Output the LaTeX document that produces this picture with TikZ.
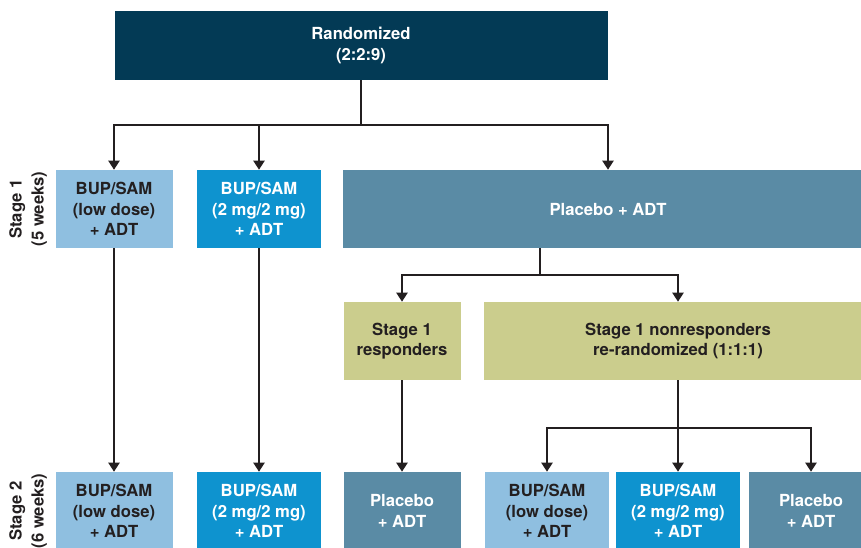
\documentclass[tikz,border=0pt]{standalone}
\usepackage{fontspec}
\setmainfont{TeX Gyre Heros}
\usetikzlibrary{arrows.meta}
\definecolor{navy}{RGB}{3,58,85}
\definecolor{lightblue}{RGB}{143,191,224}
\definecolor{midblue}{RGB}{14,147,207}
\definecolor{steel}{RGB}{90,139,165}
\definecolor{olive}{RGB}{203,205,141}
\definecolor{ink}{RGB}{35,31,32}
\begin{document}
\begin{tikzpicture}[x=0.75pt,y=0.75pt,yscale=-1,xscale=1,
  box/.style={inner sep=0pt, minimum height=58.5pt, align=center, font=\fontsize{12.5}{15.5}\selectfont\bfseries},
  narrow/.style={box, minimum width=87.75pt},
  wide/.style={box, minimum width=93pt},
  lowdose/.style={narrow, fill=lightblue, text=ink},
  fulldose/.style={wide, fill=midblue, text=white},
  placebo/.style={fill=steel, text=white},
  stagelbl/.style={rotate=90, align=center, text=ink, inner sep=0pt, font=\fontsize{12.5}{16.5}\selectfont\bfseries},
  link/.style={draw=ink, line width=1.5pt},
  arr/.style={link, -{Triangle[width=8.25pt,length=6.75pt]}}]
%set diagram left start at 0, and has height of 547
\useasboundingbox (0,0) rectangle (861,547);

% Top box
\node [box, fill=navy, text=white, minimum width=369.75pt, minimum height=51.75pt] (rand) at (361,45.5) {Randomized\\(2:2:9)};

% Stage 1
\node [lowdose] (lowA) at (114,209) {BUP/SAM\\(low dose)\\+ ADT};
\node [fulldose] (fullA) at (259,209) {BUP/SAM\\(2 mg/2 mg)\\+ ADT};
\node [box, placebo, minimum width=397.5pt] (plaA) at (608,209) {Placebo + ADT};

% Responders split
\node [narrow, fill=olive, text=ink] (resp) at (402,341) {Stage 1\\responders};
\node [box, fill=olive, text=ink, minimum width=291.75pt] (nonresp) at (678,341) {Stage 1 nonresponders\\re-randomized (1:1:1)};

% Stage 2
\node [lowdose] (lowB) at (114,511) {BUP/SAM\\(low dose)\\+ ADT};
\node [fulldose] (fullB) at (259,511) {BUP/SAM\\(2 mg/2 mg)\\+ ADT};
\node [narrow, placebo] (plaB) at (402,511) {Placebo\\+ ADT};
\node [wide, fill=lightblue, text=ink] (lowC) at (547,511) {BUP/SAM\\(low dose)\\+ ADT};
\node [wide, fill=midblue, text=white] (fullC) at (678,511) {BUP/SAM\\(2 mg/2 mg)\\+ ADT};
\node [wide, placebo] (plaC) at (811,511) {Placebo\\+ ADT};

% Stage labels
\node [stagelbl] (stgA) at (28,209) {Stage 1\\(5 weeks)};
\node [stagelbl] (stgB) at (28,511) {Stage 2\\(6 weeks)};

% Connectors
\coordinate (splitA) at (361,125);
\coordinate (splitB) at (540,275);
\coordinate (splitC) at (678,428);
\draw [link] (rand.south) -- (splitA);
\draw [arr] (splitA) -| (lowA.north);
\draw [arr] (splitA) -| (fullA.north);
\draw [arr] (splitA) -| (plaA.north);
\draw [arr] (lowA) -- (lowB);
\draw [arr] (fullA) -- (fullB);
\draw [link] (splitB |- plaA.south) -- (splitB);
\draw [arr] (splitB) -| (resp.north);
\draw [arr] (splitB) -| (nonresp.north);
\draw [arr] (resp) -- (plaB);
\draw [link] (nonresp.south) -- (splitC);
\draw [arr] (splitC) -| (lowC.north);
\draw [arr] (splitC) -- (fullC.north);
\draw [arr] (splitC) -| (plaC.north);

\end{tikzpicture}
\end{document}
